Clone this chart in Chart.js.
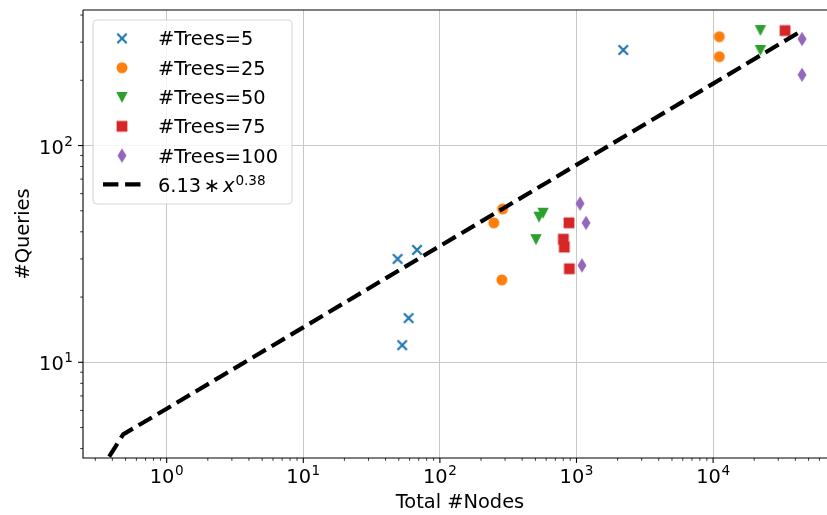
<!DOCTYPE html>
<html><head><meta charset="utf-8">
<script src="https://cdn.jsdelivr.net/npm/chart.js@4"></script>
<style>html,body{margin:0;padding:0;background:#fff}canvas{display:block}</style>
</head><body>
<canvas id="c" width="827" height="515"></canvas>
<script>
// ---- data ----
const trees5X = [49, 68, 59, 53, 2200];
const trees5Y = [30, 33, 16, 12, 276];
const trees25X = [288, 248, 284, 11100, 11100];
const trees25Y = [51, 44, 24, 318, 257];
const trees50X = [532, 569, 505, 22200, 22200];
const trees50Y = [47, 49, 37, 341, 276];
const trees75X = [881, 801, 814, 886, 33600];
const trees75Y = [44, 37, 34, 27, 339];
const trees100X = [1061, 1174, 1097, 44750, 44750];
const trees100Y = [54, 44, 28, 310, 212];
const fitX = [0.0048, 0.48, 1, 10, 100, 1000, 10000, 44750];
const fitY = [0.0465, 4.65, 6.11, 14.5, 34.4, 81.4, 193, 339];
const seriesLabels = ['#Trees=5', '#Trees=25', '#Trees=50', '#Trees=75', '#Trees=100'];
const xTickValues = [1, 10, 100, 1000, 10000];
const xTickExponents = ['0', '1', '2', '3', '4'];
const yTickValues = [10, 100];
const yTickExponents = ['1', '2'];
const xTitle = 'Total #Nodes';
const yTitle = '#Queries';

const colors = ['#1f77b4', '#ff7f0e', '#2ca02c', '#d62728', '#9467bd'];
const markerKinds = ['x', 'o', 'v', 's', 'd'];
const FONT = '"DejaVu Sans", "Liberation Sans", sans-serif';
const FS = 19.4, SFS = 13.6;

function makeMarker(kind, color) {
  const c = document.createElement('canvas'); c.width = 20; c.height = 20;
  const g = c.getContext('2d'); g.translate(10, 10);
  g.fillStyle = color; g.strokeStyle = color;
  if (kind === 'x') { g.lineWidth = 2.2; g.beginPath(); g.moveTo(-4.7,-4.7); g.lineTo(4.7,4.7); g.moveTo(-4.7,4.7); g.lineTo(4.7,-4.7); g.stroke(); }
  else if (kind === 'o') { g.beginPath(); g.arc(0,0,5.5,0,Math.PI*2); g.fill(); }
  else if (kind === 'v') { g.beginPath(); g.moveTo(-5.7,-5.0); g.lineTo(5.7,-5.0); g.lineTo(0,6.0); g.closePath(); g.fill(); }
  else if (kind === 's') { g.fillRect(-5.4,-5.4,10.8,10.8); }
  else if (kind === 'd') { g.beginPath(); g.moveTo(0,-7.2); g.lineTo(4.5,0); g.lineTo(0,7.2); g.lineTo(-4.5,0); g.closePath(); g.fill(); }
  return c;
}
const markers = markerKinds.map((k, i) => makeMarker(k, colors[i]));

const seriesX = [trees5X, trees25X, trees50X, trees75X, trees100X];
const seriesY = [trees5Y, trees25Y, trees50Y, trees75Y, trees100Y];

const datasets = seriesX.map((xs, i) => ({
  label: seriesLabels[i],
  data: xs.map((x, j) => ({x: x, y: seriesY[i][j]})),
  pointStyle: markers[i], pointRadius: 5, showLine: false,
  backgroundColor: colors[i], borderColor: colors[i],
  order: 6 - i, clip: false
}));
datasets.push({
  label: '6.13*x^0.38',
  data: fitX.map((x, j) => ({x: x, y: fitY[j]})),
  showLine: true, pointRadius: 0, borderColor: '#000', borderWidth: 4.2,
  borderDash: [15.4, 6.7], borderCapStyle: 'butt', borderJoinStyle: 'round',
  tension: 0, order: 0, clip: 0
});

function drawPow(ctx, x, baseline, exp, align, raise) {
  ctx.font = FS + 'px ' + FONT; const w1 = ctx.measureText('10').width;
  ctx.font = SFS + 'px ' + FONT; const w2 = ctx.measureText(exp).width;
  const total = w1 + 0.6 + w2;
  const x0 = align === 'center' ? x - total / 2 : x - total;
  ctx.textAlign = 'left'; ctx.textBaseline = 'alphabetic';
  ctx.font = FS + 'px ' + FONT; ctx.fillText('10', x0, baseline);
  ctx.font = SFS + 'px ' + FONT; ctx.fillText(exp, x0 + w1 + 0.6, baseline - raise);
}

const decor = {
  id: 'decor',
  afterDraw(chart) {
    const ctx = chart.ctx, a = chart.chartArea;
    const xs = chart.scales.x, ys = chart.scales.y;
    ctx.save();
    ctx.fillStyle = '#000'; ctx.strokeStyle = '#000';
    ctx.lineWidth = 1.1;
    ctx.beginPath();
    ctx.moveTo(a.left, a.top); ctx.lineTo(a.left, a.bottom); ctx.lineTo(a.right, a.bottom);
    ctx.moveTo(a.left, a.top); ctx.lineTo(a.right, a.top);
    ctx.stroke();
    for (let k = -1; k <= 5; k++) {
      for (let m = 1; m <= 9; m++) {
        const v = m * Math.pow(10, k);
        if (v >= xs.min && v <= xs.max) {
          const px = xs.getPixelForValue(v);
          const len = m === 1 ? 4.9 : 2.8;
          ctx.lineWidth = m === 1 ? 1.1 : 0.8;
          ctx.beginPath(); ctx.moveTo(px, a.bottom); ctx.lineTo(px, a.bottom + len); ctx.stroke();
        }
        if (v >= ys.min && v <= ys.max) {
          const py = ys.getPixelForValue(v);
          const len = m === 1 ? 4.9 : 2.8;
          ctx.lineWidth = m === 1 ? 1.1 : 0.8;
          ctx.beginPath(); ctx.moveTo(a.left, py); ctx.lineTo(a.left - len, py); ctx.stroke();
        }
      }
    }
    xTickValues.forEach((v, i) => drawPow(ctx, xs.getPixelForValue(v), 483, xTickExponents[i], 'center', 8));
    yTickValues.forEach((v, i) => drawPow(ctx, a.left - 10, ys.getPixelForValue(v) + 8, yTickExponents[i], 'right', 8));
    ctx.font = FS + 'px ' + FONT; ctx.textAlign = 'center'; ctx.textBaseline = 'alphabetic';
    ctx.fillText(xTitle, 460, 508);
    ctx.save(); ctx.translate(29, (a.top + a.bottom) / 2); ctx.rotate(-Math.PI / 2);
    ctx.fillText(yTitle, 0, 0); ctx.restore();
    // legend
    const L = 93, T = 20, R = 292, B = 204, r = 4;
    ctx.beginPath();
    ctx.moveTo(L + r, T); ctx.lineTo(R - r, T); ctx.arcTo(R, T, R, T + r, r);
    ctx.lineTo(R, B - r); ctx.arcTo(R, B, R - r, B, r);
    ctx.lineTo(L + r, B); ctx.arcTo(L, B, L, B - r, r);
    ctx.lineTo(L, T + r); ctx.arcTo(L, T, L + r, T, r); ctx.closePath();
    ctx.fillStyle = 'rgba(255,255,255,0.8)'; ctx.fill();
    ctx.strokeStyle = 'rgba(204,204,204,0.8)'; ctx.lineWidth = 1.1; ctx.stroke();
    const rows = [38.4, 67.7, 96.9, 126.3, 155.6, 184.4];
    ctx.fillStyle = '#000'; ctx.textAlign = 'left'; ctx.font = FS + 'px ' + FONT;
    for (let i = 0; i < 5; i++) {
      ctx.drawImage(markers[i], 122 - 10, rows[i] - 10);
      ctx.fillText(seriesLabels[i], 158, rows[i] + 7);
    }
    ctx.save(); ctx.strokeStyle = '#000'; ctx.lineWidth = 4.2; ctx.setLineDash([15.4, 6.7]); ctx.lineCap = 'butt';
    ctx.beginPath(); ctx.moveTo(103, rows[5]); ctx.lineTo(142, rows[5]); ctx.stroke(); ctx.restore();
    const bl = rows[5] + 7.3;
    let x = 158;
    ctx.font = FS + 'px ' + FONT; ctx.fillText('6.13', x, bl); x += ctx.measureText('6.13').width;
    ctx.fillText('\u2217', x + 2.5, bl); x += ctx.measureText('\u2217').width + 5.5;
    ctx.font = 'oblique ' + FS + 'px ' + FONT; ctx.fillText('x', x, bl); x += ctx.measureText('x').width + 1;
    ctx.font = SFS + 'px ' + FONT; ctx.fillText('0.38', x, bl - 6.7);
    ctx.restore();
  }
};

new Chart(document.getElementById('c'), {
  type: 'scatter',
  data: {datasets: datasets},
  options: {
    responsive: false, animation: false, events: [],
    layout: {padding: {left: 83, top: 10, right: 0, bottom: 57}, autoPadding: false},
    plugins: {legend: {display: false}, tooltip: {enabled: false}, title: {display: false}},
    scales: {
      x: {
        type: 'logarithmic', min: Math.pow(10, -0.6127), max: Math.pow(10, 4.8338),
        afterBuildTicks: s => { s.ticks = xTickValues.map(v => ({value: v})); },
        ticks: {display: false}, border: {display: false},
        grid: {color: '#c8c8c8', lineWidth: 1, drawTicks: false}
      },
      y: {
        type: 'logarithmic', min: Math.pow(10, 0.5586), max: Math.pow(10, 2.6253),
        afterBuildTicks: s => { s.ticks = yTickValues.map(v => ({value: v})); },
        ticks: {display: false}, border: {display: false},
        grid: {color: '#c8c8c8', lineWidth: 1, drawTicks: false}
      }
    }
  },
  plugins: [decor]
});
</script>
</body></html>
